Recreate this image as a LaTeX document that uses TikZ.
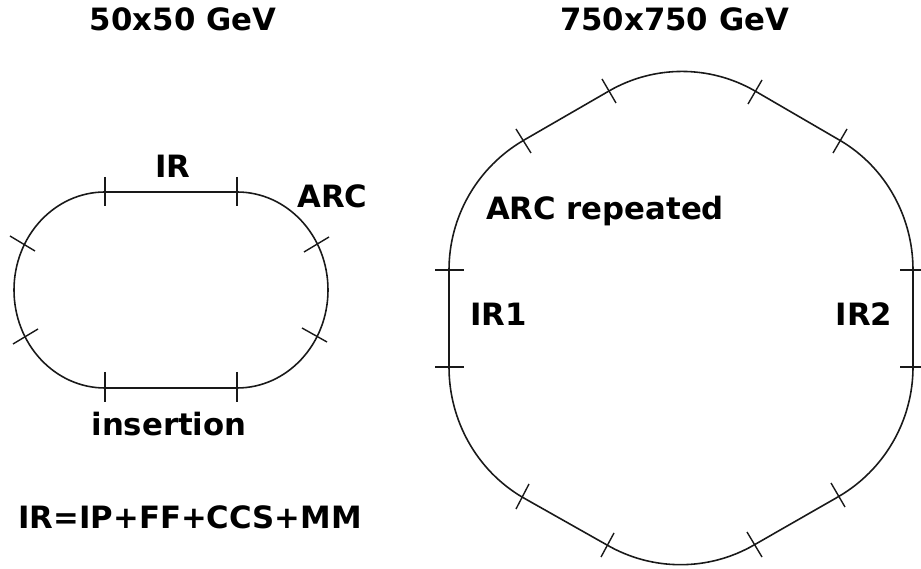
\documentclass[tikz,border=0pt]{standalone}
\usepackage{fontspec}
\setmainfont{DejaVu Sans}
\tikzset{
  ring/.style={line width=0.9pt, black!90},
  cut/.style={line width=0.8pt, black!90},
  lbl/.style={font=\fontsize{17.5}{21}\selectfont\bfseries, inner sep=0pt}
}
\begin{document}
\begin{tikzpicture}
    \useasboundingbox (0,0) rectangle (18.42,11.38);
    % Anel 50x50
    \draw[ring] (2.10,7.54) -- (4.74,7.54)
        arc[start angle=90, end angle=-90, x radius=1.82, y radius=1.96]
        -- (2.10,3.62)
        arc[start angle=270, end angle=90, x radius=1.82, y radius=1.96] -- cycle;
    % Cortes 50x50
    \foreach \x in {2.10,4.74} {
        \draw[cut] (\x,7.84) -- (\x,7.26);
        \draw[cut] (\x,3.94) -- (\x,3.34);
    }
    \draw[cut] (0.20,6.66) -- (0.70,6.36);
    \draw[cut] (0.26,4.50) -- (0.76,4.80);
    \draw[cut] (6.08,6.34) -- (6.58,6.64);
    \draw[cut] (6.04,4.82) -- (6.54,4.54);
    % Anel 750x750
    \draw[ring] (8.98,5.98)
        arc[start angle=180, end angle=120, radius=3]
        -- (12.18,9.56)
        arc[start angle=120, end angle=60, radius=2.92]
        -- (16.82,8.56)
        arc[start angle=60, end angle=0, x radius=2.88, y radius=2.98]
        -- (18.26,4.04)
        arc[start angle=0, end angle=-60, radius=3]
        -- (15.08,0.48)
        arc[start angle=-60, end angle=-120, radius=2.94]
        -- (10.44,1.44)
        arc[start angle=-120, end angle=-180, x radius=2.92, y radius=3] -- cycle;
    % Cortes 750x750
    \foreach \y in {5.98,4.04} {
        \draw[cut] (8.70,\y) -- (9.28,\y);
        \draw[cut] (18.00,\y) -- (18.42,\y);
    }
    \foreach \a/\b/\c/\d in {10.32/8.80/10.62/8.32, 12.04/9.80/12.32/9.32,
        15.24/9.78/14.96/9.30, 16.94/8.80/16.66/8.32,
        10.58/1.70/10.32/1.20, 12.28/0.72/12.02/0.24,
        14.94/0.74/15.24/0.24, 16.62/1.72/16.90/1.24} {
        \draw[cut] (\a,\b) -- (\c,\d);
    }
    % Textos
    \node[lbl] (t50) at (3.66,11.00) {50x50 GeV};
    \node[lbl] (t750) at (13.49,11.00) {750x750 GeV};
    \node[lbl] (ir) at (3.46,8.05) {IR};
    \node[lbl] (arc) at (6.65,7.46) {ARC};
    \node[lbl] (ins) at (3.38,2.89) {insertion};
    \node[lbl] (sum) at (3.80,1.04) {IR=IP+FF+CCS+MM};
    \node[lbl] (rep) at (12.10,7.15) {ARC repeated};
    \node[lbl] (ir1) at (9.97,5.10) {IR1};
    \node[lbl] (ir2) at (17.28,5.10) {IR2};
\end{tikzpicture}
\end{document}
